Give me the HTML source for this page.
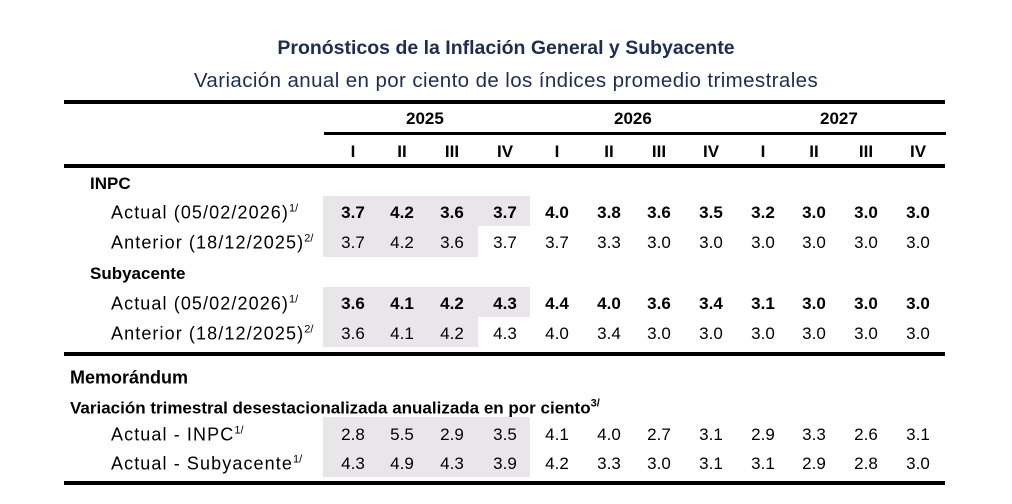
<!DOCTYPE html><html><head><meta charset="utf-8"><style>
body{margin:0;width:1012px;height:504px;background:#fff;position:relative;font-family:"Liberation Sans",sans-serif;color:#000;overflow:hidden}
.a{position:absolute;white-space:nowrap}
.t{left:0;width:1012px;text-align:center;color:#1f2d4e}
.l{position:absolute;background:#000}
.g{position:absolute;background:#e8e6e8}
.c{position:absolute;width:52px;text-align:center;font-size:17px;transform:translateY(-50%)}
.b{font-weight:bold}
.r{position:absolute;font-size:17px;transform:translateY(-50%);white-space:nowrap}
.s{font-size:18px;letter-spacing:1.1px}
sup{font-size:11px;vertical-align:7px;letter-spacing:0}
</style></head><body>
<div class="a t b" style="top:37px;font-size:19.5px">Pronósticos de la Inflación General y Subyacente</div>
<div class="a t" style="top:69px;font-size:20.5px;letter-spacing:0.4px">Variación anual en por ciento de los índices promedio trimestrales</div>
<div class="l" style="left:64px;top:100px;width:881px;height:4px"></div>
<div class="l" style="left:324px;top:132px;width:622px;height:3px"></div>
<div class="l" style="left:64px;top:164px;width:881px;height:4px"></div>
<div class="l" style="left:64px;top:352px;width:881px;height:4px"></div>
<div class="l" style="left:64px;top:481px;width:881px;height:4px"></div>
<div class="g" style="left:323px;top:196px;width:207px;height:30px"></div>
<div class="g" style="left:323px;top:226px;width:155px;height:31px"></div>
<div class="g" style="left:323px;top:287px;width:207px;height:30px"></div>
<div class="g" style="left:323px;top:317px;width:155px;height:30px"></div>
<div class="g" style="left:323px;top:417px;width:207px;height:60px"></div>
<div class="r b" style="left:406px;top:119px">2025</div>
<div class="r b" style="left:614px;top:119px">2026</div>
<div class="r b" style="left:820px;top:119px">2027</div>
<div class="r b" style="left:90px;top:184px">INPC</div>
<div class="r s" style="left:111px;top:213px">Actual (05/02/2026)<sup>1/</sup></div>
<div class="r s" style="left:111px;top:243px">Anterior (18/12/2025)<sup>2/</sup></div>
<div class="r b" style="left:90px;top:274px">Subyacente</div>
<div class="r s" style="left:111px;top:304px">Actual (05/02/2026)<sup>1/</sup></div>
<div class="r s" style="left:111px;top:334px">Anterior (18/12/2025)<sup>2/</sup></div>
<div class="r b" style="left:70px;top:378px;font-size:18px">Memorándum</div>
<div class="r b" style="left:70px;top:408px">Variación trimestral desestacionalizada anualizada en por ciento<sup>3/</sup></div>
<div class="r s" style="left:111px;top:435px">Actual - INPC<sup>1/</sup></div>
<div class="r s" style="left:111px;top:464px">Actual - Subyacente<sup>1/</sup></div>
<div id="cells"></div>
<script>
var xs=[353,402,452,505,557,609,659,711,763,814,866,918];
var rows=[[152,1,"I II III IV I II III IV I II III IV"],
[213,1,"3.7 4.2 3.6 3.7 4.0 3.8 3.6 3.5 3.2 3.0 3.0 3.0"],
[243,0,"3.7 4.2 3.6 3.7 3.7 3.3 3.0 3.0 3.0 3.0 3.0 3.0"],
[304,1,"3.6 4.1 4.2 4.3 4.4 4.0 3.6 3.4 3.1 3.0 3.0 3.0"],
[334,0,"3.6 4.1 4.2 4.3 4.0 3.4 3.0 3.0 3.0 3.0 3.0 3.0"],
[435,0,"2.8 5.5 2.9 3.5 4.1 4.0 2.7 3.1 2.9 3.3 2.6 3.1"],
[464,0,"4.3 4.9 4.3 3.9 4.2 3.3 3.0 3.1 3.1 2.9 2.8 3.0"]];
var h="";rows.forEach(function(r){r[2].split(" ").forEach(function(v,i){h+='<div class="c'+(r[1]?' b':'')+'" style="left:'+(xs[i]-26)+'px;top:'+r[0]+'px">'+v+'</div>';});});
document.getElementById("cells").innerHTML=h;
</script>
</body></html>
